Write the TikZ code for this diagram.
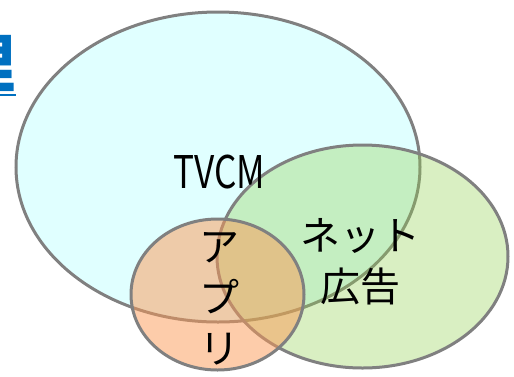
\documentclass[tikz,border=0pt]{standalone}
\usepackage{fontspec}
\setmainfont{Noto Sans CJK JP}
\usetikzlibrary{shapes.geometric}
\definecolor{edgegray}{RGB}{128,128,128}
\definecolor{tvfill}{RGB}{224,255,255}
\definecolor{netfill}{RGB}{146,208,80}
\definecolor{appfill}{RGB}{252,153,85}
\definecolor{linkblue}{RGB}{0,112,192}
\tikzset{
  setbox/.style={ellipse, draw=edgegray, line width=3pt, inner sep=0pt, outer sep=0pt},
  label/.style={inner sep=0pt, font=\fontsize{40}{51}\selectfont, align=center},
}
\begin{document}
\begin{tikzpicture}[x=1pt,y=-1pt]
\useasboundingbox (0,0) rectangle (514,376);
\begin{scope}
\clip (0,0) rectangle (514,376);
\node[inner sep=0pt, anchor=base east, text=linkblue, font=\fontsize{64}{64}\selectfont\bfseries] (title) at (16,87) {理};
\draw[linkblue, line width=2pt] (0,95) -- (16,95);
\node[setbox, fill=tvfill, minimum width=404, minimum height=310] (tv) at (218,167) {};
\node[setbox, fill=netfill, fill opacity=0.35, minimum width=291, minimum height=223] (net) at (362.5,256.5) {};
\node[setbox, fill=appfill, fill opacity=0.5, minimum width=173, minimum height=151] (app) at (217.5,294.5) {};
\node[label] (tvl) at (219,172) {\scalebox{0.78}[1]{\fontsize{45}{45}\selectfont TVCM}};
\node[label] (netl) at (360,262) {ネット\\広告};
\node[label] (appl) at (219,299) {ア\\プ\\リ};
\end{scope}
\end{tikzpicture}
\end{document}
